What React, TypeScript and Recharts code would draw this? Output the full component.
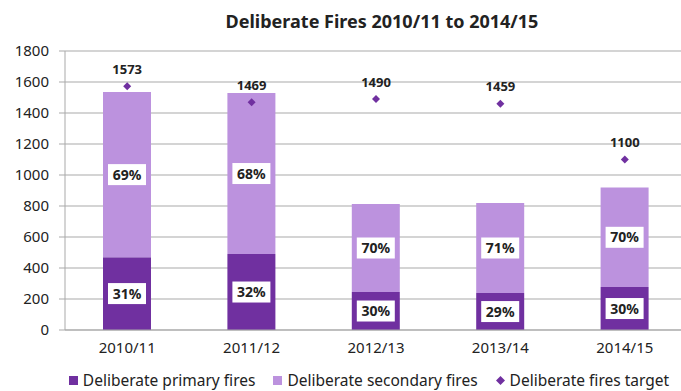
import React from 'react';
import {
  ComposedChart,
  Bar,
  Scatter,
  XAxis,
  YAxis,
  CartesianGrid,
  Legend,
  LabelList,
} from 'recharts';

const categories = ['2010/11', '2011/12', '2012/13', '2013/14', '2014/15'];
const primaryFires = [470, 490, 245, 238, 277];
const secondaryFires = [1065, 1039, 568, 582, 642];
const fireTargets = [1573, 1469, 1490, 1459, 1100];
const primaryPctLabels = ['31%', '32%', '30%', '29%', '30%'];
const secondaryPctLabels = ['69%', '68%', '70%', '71%', '70%'];
const yTicks = [0, 200, 400, 600, 800, 1000, 1200, 1400, 1600, 1800];

const PRIMARY = '#7030A0';
const SECONDARY = '#BC92DE';
const FONT = '"Noto Sans", "Open Sans", sans-serif';

const data = categories.map((name, i) => ({
  name,
  primary: primaryFires[i],
  secondary: secondaryFires[i],
  target: fireTargets[i],
  primaryPct: primaryPctLabels[i],
  secondaryPct: secondaryPctLabels[i],
}));

const PctLabel = (props: any) => {
  const { x, y, width, height, value } = props;
  const cx = x + width / 2;
  const cy = y + height / 2;
  return (
    <g>
      <rect x={cx - 19} y={cy - 10.5} width={38} height={21} fill="#ffffff" />
      <text
        x={cx}
        y={cy + 5}
        textAnchor="middle"
        fontSize={14}
        fontWeight="bold"
        fontFamily={FONT}
        fill="#222"
      >
        {value}
      </text>
    </g>
  );
};

const TargetLabel = (props: any) => {
  const { x, y, width, value } = props;
  const cx = x + (width || 0) / 2;
  return (
    <text
      x={cx}
      y={y - 8}
      textAnchor="middle"
      fontSize={13}
      fontWeight="bold"
      fontFamily={FONT}
      fill="#222"
    >
      {value}
    </text>
  );
};

const Diamond = (props: any) => {
  const { cx, cy } = props;
  const s = 4;
  return (
    <polygon
      points={`${cx},${cy - s} ${cx + s},${cy} ${cx},${cy + s} ${cx - s},${cy}`}
      fill={PRIMARY}
    />
  );
};

const renderLegend = () => (
  <div
    style={{
      display: 'flex',
      justifyContent: 'center',
      alignItems: 'flex-end',
      gap: 18,
      fontFamily: FONT,
      fontSize: 15.5,
      color: '#222',
      height: 30,
      boxSizing: 'border-box',
      paddingBottom: 0,
      paddingLeft: 50,
    }}
  >
    <span style={{ display: 'flex', alignItems: 'center', gap: 5 }}>
      <span style={{ width: 9, height: 9, background: PRIMARY, display: 'inline-block' }} />
      Deliberate primary fires
    </span>
    <span style={{ display: 'flex', alignItems: 'center', gap: 5 }}>
      <span style={{ width: 9, height: 9, background: SECONDARY, display: 'inline-block' }} />
      Deliberate secondary fires
    </span>
    <span style={{ display: 'flex', alignItems: 'center', gap: 5 }}>
      <svg width={9} height={9}>
        <polygon points="4.5,0 9,4.5 4.5,9 0,4.5" fill={PRIMARY} />
      </svg>
      Deliberate fires target
    </span>
  </div>
);

export default function App() {
  return (
    <div
      style={{
        position: 'absolute',
        left: 0,
        top: 0,
        width: 681,
        height: 391,
        overflow: 'hidden',
        background: '#fff',
      }}
    >
      <div
        style={{
          position: 'absolute',
          left: 0,
          width: 764,
          top: 9,
          textAlign: 'center',
          fontFamily: FONT,
          fontWeight: 'bold',
          fontSize: 18,
          color: '#222',
        }}
      >
        Deliberate Fires 2010/11 to 2014/15
      </div>
      <ComposedChart
        width={700}
        height={391}
        data={data}
        margin={{ top: 51, right: 13, bottom: 0, left: 1 }}
      >
        <CartesianGrid vertical={false} stroke="#a9a9a9" />
        <XAxis
          dataKey="name"
          height={31}
          axisLine={{ stroke: '#a9a9a9' }}
          tickLine={false}
          tickMargin={6}
          tick={{ fontSize: 15, fill: '#222', fontFamily: FONT }}
        />
        <YAxis
          width={64}
          domain={[0, 1800]}
          ticks={yTicks}
          axisLine={{ stroke: '#a9a9a9' }}
          tickLine={{ stroke: '#a9a9a9' }}
          tickSize={6}
          tickMargin={10}
          tick={{ fontSize: 15, fill: '#222', fontFamily: FONT }}
        />
        <Legend verticalAlign="bottom" content={renderLegend} />
        <Bar dataKey="primary" stackId="a" fill={PRIMARY} barSize={48} isAnimationActive={false}>
          <LabelList dataKey="primaryPct" content={PctLabel} />
        </Bar>
        <Bar dataKey="secondary" stackId="a" fill={SECONDARY} barSize={48} isAnimationActive={false}>
          <LabelList dataKey="secondaryPct" content={PctLabel} />
        </Bar>
        <Scatter dataKey="target" shape={Diamond} isAnimationActive={false}>
          <LabelList dataKey="target" content={TargetLabel} />
        </Scatter>
      </ComposedChart>
    </div>
  );
}
